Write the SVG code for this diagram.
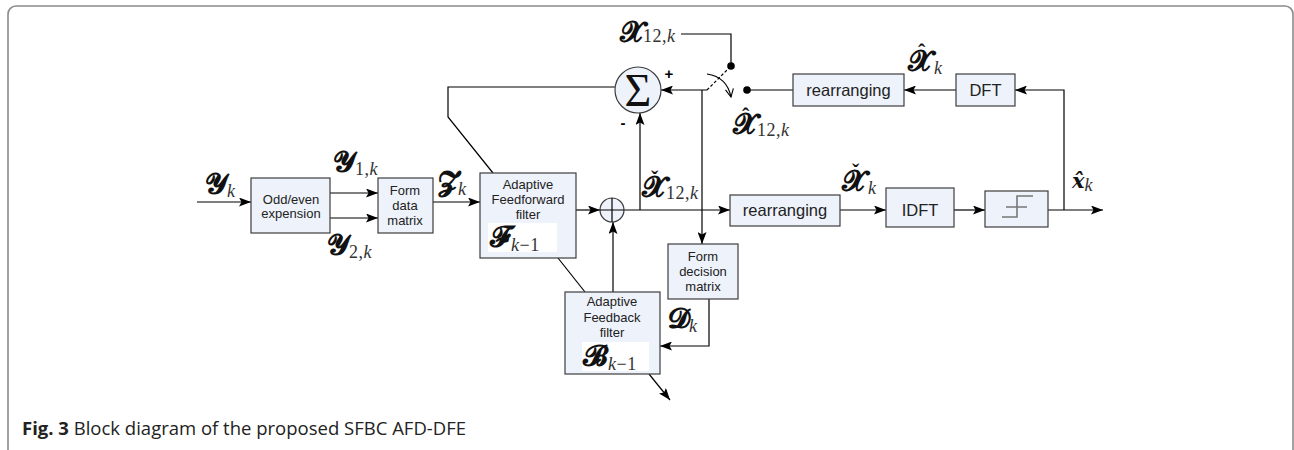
<svg xmlns="http://www.w3.org/2000/svg" width="1294" height="450" viewBox="0 0 1294 450">
  <defs>
    <style>
      .frame { fill: none; stroke: #8a8a8a; stroke-width: 1.6; }
      .box { fill: #eef2fa; stroke: #3c3c3c; stroke-width: 1.2; }
      .lbl { font-family: "Liberation Sans", Arial, sans-serif; font-size: 13px; fill: #222; text-anchor: middle; }
      .big { font-family: "Liberation Sans", Arial, sans-serif; font-size: 16.5px; fill: #222; text-anchor: middle; }
      .wire { fill: none; stroke: #000; stroke-width: 1.2; }
      .arr { marker-end: url(#ah); }
      .m { font-family: "DejaVu Sans", "DejaVu Serif", "Noto Sans", serif; font-weight: bold; font-size: 28px; fill: #111; }
      .ms { font-family: "Liberation Serif", "DejaVu Serif", serif; font-weight: normal; font-size: 18px; fill: #333; letter-spacing: 0.5px; }
      .it { font-style: italic; }
      .acc { font-family: "Liberation Serif", "DejaVu Serif", serif; font-weight: bold; font-size: 22px; fill: #111; }
      .cap { font-family: "Open Sans", "Noto Sans", sans-serif; font-size: 18.5px; fill: #222; }
    </style>
    <marker id="ah" viewBox="0 0 12 9" refX="12" refY="4.5" markerWidth="12" markerHeight="9" orient="auto" markerUnits="userSpaceOnUse">
      <path d="M0,0 L12,4.5 L0,9 L2.5,4.5 z" fill="#000"/>
    </marker>
    <marker id="open" viewBox="0 0 10 10" refX="9" refY="5" markerWidth="10" markerHeight="10" orient="auto" markerUnits="userSpaceOnUse">
      <path d="M1,1 L9,5 L1,9" fill="none" stroke="#000" stroke-width="1.1"/>
    </marker>
  </defs>

  <rect width="1294" height="450" fill="#fff"/>
  <!-- outer figure frame, open at the bottom -->
  <path class="frame" d="M8,460 V14 A8,8 0 0 1 16,6 H1285 A8,8 0 0 1 1293,14 V460"/>

  <!-- connectors -->
  <g id="connectors">
    <path class="wire arr" d="M197,202 H251"/>
    <path class="wire arr" d="M330,193 H378"/>
    <path class="wire arr" d="M330,218 H378"/>
    <path class="wire arr" d="M433,202 H480"/>
    <path class="wire arr" d="M576,210 H600"/>
    <path class="wire arr" d="M624,210 H730"/>
    <path class="wire arr" d="M640,210 V113"/>
    <path class="wire" d="M615,87 H448 V117 L493,173"/>
    <path class="wire arr" d="M707,90 H661"/>
    <path class="wire arr" d="M702,90 V244"/>
    <path class="wire" d="M707,90 L731,66" stroke-dasharray="3,2"/>
    <path class="wire" d="M681,34 H731 V66"/>
    <circle cx="731" cy="66" r="3.8" fill="#000"/>
    <circle cx="747" cy="90" r="3.8" fill="#000"/>
    <path class="wire" d="M707,74 Q727,77 731,97" marker-end="url(#open)"/>
    <path class="wire" d="M747,90 H793"/>
    <path class="wire arr" d="M956,90 H904"/>
    <path class="wire arr" d="M1064,210 V90 H1015"/>
    <path class="wire arr" d="M840,210 H886"/>
    <path class="wire arr" d="M954,210 H985"/>
    <path class="wire arr" d="M1048,210 H1103"/>
    <path class="wire arr" d="M709,299 V346 H660"/>
    <path class="wire arr" d="M613,292 V222"/>
    <path class="wire" d="M558,258 L585,292"/>
    <path class="wire arr" d="M649,374 L670,400"/>
  </g>

  <!-- blocks -->
  <g id="oddeven">
    <rect class="box" x="251" y="178" width="79" height="55"/>
    <text class="lbl" x="291" y="204">Odd/even</text>
    <text class="lbl" x="291" y="218">expension</text>
  </g>
  <g id="formdata">
    <rect class="box" x="378" y="178" width="55" height="55"/>
    <text class="lbl" x="405" y="195">Form</text>
    <text class="lbl" x="405" y="210">data</text>
    <text class="lbl" x="405" y="225">matrix</text>
  </g>
  <g id="feedforward">
    <rect class="box" x="480" y="173" width="96" height="85"/>
    <text class="lbl" x="528" y="189">Adaptive</text>
    <text class="lbl" x="528" y="204">Feedforward</text>
    <text class="lbl" x="528" y="219">filter</text>
    <rect x="488" y="223" width="69" height="29" fill="#fff"/>
    <text class="m" x="490" y="246">𝓕<tspan class="ms" dy="5" font-size="21"><tspan class="it">k</tspan>−1</tspan></text>
  </g>
  <g id="feedback">
    <rect class="box" x="565" y="292" width="95" height="82"/>
    <text class="lbl" x="612" y="306">Adaptive</text>
    <text class="lbl" x="612" y="322">Feedback</text>
    <text class="lbl" x="612" y="337">filter</text>
    <rect x="582" y="342" width="67" height="29" fill="#fff"/>
    <text class="m" x="583" y="365">𝓑<tspan class="ms" dy="5" font-size="21"><tspan class="it">k</tspan>−1</tspan></text>
  </g>
  <g id="decision">
    <rect class="box" x="668" y="244" width="70" height="55"/>
    <text class="lbl" x="703" y="261">Form</text>
    <text class="lbl" x="703" y="276">decision</text>
    <text class="lbl" x="703" y="291">matrix</text>
  </g>
  <g id="sum">
    <circle class="box" cx="638" cy="90" r="23"/>
    <text x="638" y="106" font-family="Liberation Serif, serif" font-size="46" text-anchor="middle" fill="#111">Σ</text>
    <text x="669" y="79" font-family="Liberation Sans, sans-serif" font-size="15" font-weight="bold" text-anchor="middle">+</text>
    <text x="623" y="128" font-family="Liberation Sans, sans-serif" font-size="15" font-weight="bold" text-anchor="middle">-</text>
  </g>
  <g id="adder">
    <circle class="box" cx="612" cy="210" r="12"/>
    <path class="wire" d="M600,210 H624 M612,198 V222"/>
  </g>
  <g id="rearrange-top">
    <rect class="box" x="793" y="74" width="111" height="32"/>
    <text class="big" x="848.5" y="96">rearranging</text>
  </g>
  <g id="dft">
    <rect class="box" x="956" y="74" width="59" height="32"/>
    <text class="big" x="985.5" y="96">DFT</text>
  </g>
  <g id="rearrange-bottom">
    <rect class="box" x="730" y="195" width="110" height="31"/>
    <text class="big" x="785" y="216">rearranging</text>
  </g>
  <g id="idft">
    <rect class="box" x="886" y="188" width="68" height="39"/>
    <text class="big" x="920" y="216">IDFT</text>
  </g>
  <g id="slicer">
    <rect class="box" x="985" y="191" width="63" height="36"/>
    <path d="M1002,217 H1017 V196 H1033 M1006,207 H1027" fill="none" stroke="#777" stroke-width="1.6"/>
  </g>

  <!-- signal labels; accents sit in their own tspans above the letter -->
  <g id="labels">
    <text class="m" x="205" y="193">𝓨<tspan class="ms it" dy="4">k</tspan></text>
    <text class="m" x="333" y="171">𝓨<tspan class="ms" dy="4">1,<tspan class="it">k</tspan></tspan></text>
    <text class="m" x="327" y="254">𝓨<tspan class="ms" dy="4">2,<tspan class="it">k</tspan></tspan></text>
    <text class="m" x="438" y="191">𝓩<tspan class="ms it" dy="4">k</tspan></text>
    <text class="m" x="620" y="41" font-size="24">𝓧<tspan class="ms" dy="1" font-size="20" letter-spacing="1.5">12,<tspan class="it">k</tspan></tspan></text>
    <text class="m" x="733" y="133" font-size="26">𝓧<tspan class="acc" x="742" y="123">ˆ</tspan><tspan class="ms" x="757" y="136" font-size="20" letter-spacing="1">12,<tspan class="it">k</tspan></tspan></text>
    <text class="m" x="642" y="196" font-size="26">𝓧<tspan class="acc" x="651" y="186">ˇ</tspan><tspan class="ms" x="666" y="199" font-size="20" letter-spacing="1">12,<tspan class="it">k</tspan></tspan></text>
    <text class="m" x="908" y="70">𝓧<tspan class="acc" x="918" y="59">ˆ</tspan><tspan class="ms it" x="934" y="74">k</tspan></text>
    <text class="m" x="842" y="190">𝓧<tspan class="acc" x="852" y="179">ˇ</tspan><tspan class="ms it" x="868" y="194">k</tspan></text>
    <text x="1072" y="188" font-family="DejaVu Serif, serif" font-style="italic" font-weight="bold" font-size="21" fill="#111">x&#x302;<tspan class="ms it" dy="3">k</tspan></text>
    <text class="m" x="668" y="328">𝓓<tspan class="ms it" dy="4">k</tspan></text>
  </g>

  <text class="cap" x="22" y="435"><tspan font-weight="bold">Fig. 3</tspan> Block diagram of the proposed SFBC AFD-DFE</text>
</svg>
